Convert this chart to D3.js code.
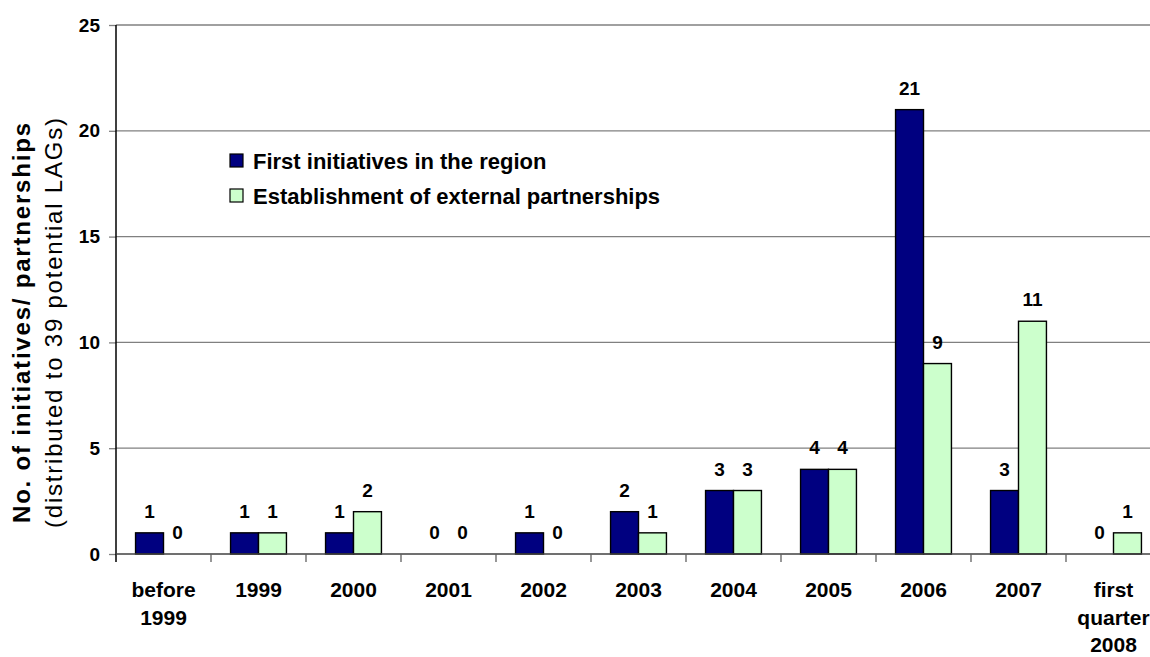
<!DOCTYPE html>
<html>
<head>
    <meta charset="utf-8">
    <title>initiatives-partnerships</title>
    <style>
body { margin: 0; background: #fff; }
text { font-family: "Liberation Sans", Arial, sans-serif; fill: #000; }
.grid line { stroke: #808080; stroke-width: 1.3; }
.bar { stroke: #000; stroke-width: 1.4; }
.val { font-size: 19px; font-weight: bold; text-anchor: middle; }
.xlab { font-size: 21px; font-weight: bold; text-anchor: middle; }
.leg { font-size: 22px; font-weight: bold; }
</style>
</head>
<body>
<script src="https://cdn.jsdelivr.net/npm/d3@7"></script>
<script>
// categories along the x axis, one array of text lines per category
var categories = ["before 1999", "1999", "2000", "2001", "2002", "2003", "2004", "2005", "2006", "2007", "first quarter 2008"];
var categoryLines = [["before", "1999"], ["1999"], ["2000"], ["2001"], ["2002"], ["2003"], ["2004"], ["2005"], ["2006"], ["2007"], ["first", "quarter", "2008"]];

// the two series
var seriesNames = ["First initiatives in the region", "Establishment of external partnerships"];
var firstInitiatives = [1, 1, 1, 0, 1, 2, 3, 4, 21, 3, 0];
var externalPartnerships = [0, 1, 2, 0, 0, 1, 3, 4, 9, 11, 1];
var seriesColors = ["#000080", "#ccffcc"];

var yTicks = [0, 5, 10, 15, 20, 25];

var totalWidth = 1150, totalHeight = 657;
// plot runs past the right edge of the picture, like the original
var margin = { top: 25, left: 116 };
var width = 1045, height = 529;

var svg = d3.select("body").append("svg")
    .attr("width", totalWidth)
    .attr("height", totalHeight);

var g = svg.append("g")
    .attr("transform", "translate(" + margin.left + "," + margin.top + ")");

var x0 = d3.scaleBand()
    .domain(categories)
    .range([0, width])
    .paddingInner(0)
    .paddingOuter(0);

var x1 = d3.scaleBand()
    .domain([0, 1])
    .range([0, x0.bandwidth()])
    .paddingInner(0)
    .paddingOuter(0.7);

var y = d3.scaleLinear()
    .domain([0, 25])
    .range([height, 0]);

// gridlines
g.append("g").attr("class", "grid")
    .selectAll("line")
    .data(yTicks.filter(function (d) { return d > 0; }))
    .enter().append("line")
    .attr("x1", 0).attr("x2", width)
    .attr("y1", function (d) { return y(d); })
    .attr("y2", function (d) { return y(d); });

// data table: one row per category
var rows = categories.map(function (c, i) {
    return { cat: c, values: [firstInitiatives[i], externalPartnerships[i]] };
});

var groups = g.selectAll(".grp")
    .data(rows)
    .enter().append("g")
    .attr("class", "grp")
    .attr("transform", function (d) { return "translate(" + x0(d.cat) + ",0)"; });

groups.selectAll("rect")
    .data(function (d) { return d.values.map(function (v, k) { return { k: k, v: v }; }); })
    .enter().append("rect")
    .filter(function (d) { return d.v > 0; })
    .attr("class", "bar")
    .attr("x", function (d) { return x1(d.k); })
    .attr("width", x1.bandwidth())
    .attr("y", function (d) { return y(d.v); })
    .attr("height", function (d) { return height - y(d.v); })
    .attr("fill", function (d) { return seriesColors[d.k]; });

groups.selectAll(".val")
    .data(function (d) { return d.values.map(function (v, k) { return { k: k, v: v }; }); })
    .enter().append("text")
    .attr("class", "val")
    .attr("x", function (d) { return x1(d.k) + x1.bandwidth() / 2; })
    .attr("y", function (d) { return y(d.v) - 15; })
    .text(function (d) { return d.v; });

// y axis
var yAxis = g.append("g")
    .call(d3.axisLeft(y).tickValues(yTicks).tickSize(7).tickPadding(9));
yAxis.select(".domain").remove();
yAxis.selectAll(".tick line").attr("stroke", "#808080").attr("stroke-width", 1.3);
yAxis.selectAll(".tick text")
    .style("font-size", "19px").style("font-weight", "bold")
    .style("font-family", "'Liberation Sans', Arial, sans-serif")
    .attr("fill", "#000");
g.append("line")
    .attr("x1", 0).attr("x2", 0)
    .attr("y1", 0).attr("y2", height + 8)
    .attr("stroke", "#000").attr("stroke-width", 1.5);

// x axis: baseline plus tick marks at category boundaries
g.append("line")
    .attr("x1", 0).attr("x2", width)
    .attr("y1", height).attr("y2", height)
    .attr("stroke", "#404040").attr("stroke-width", 1.5);
g.selectAll(".xtick")
    .data(categories.slice(1))
    .enter().append("line")
    .attr("class", "xtick")
    .attr("x1", function (d) { return x0(d); })
    .attr("x2", function (d) { return x0(d); })
    .attr("y1", height).attr("y2", height + 8)
    .attr("stroke", "#606060").attr("stroke-width", 1.3);

var xl = g.selectAll(".xlab")
    .data(categories)
    .enter().append("text")
    .attr("class", "xlab")
    .attr("transform", function (d) { return "translate(" + (x0(d) + x0.bandwidth() / 2) + "," + (height + 43) + ")"; });
xl.selectAll("tspan")
    .data(function (d, i) { return categoryLines[i]; })
    .enter().append("tspan")
    .attr("x", 0)
    .attr("y", function (d, j) { return j * 27.5; })
    .text(function (d) { return d; });

// y axis title
svg.append("text")
    .attr("transform", "translate(30,323) rotate(-90)")
    .attr("text-anchor", "middle")
    .attr("textLength", 400)
    .attr("lengthAdjust", "spacing")
    .style("font-size", "24px").style("font-weight", "bold")
    .text("No. of initiatives/ partnerships");
svg.append("text")
    .attr("transform", "translate(62,323) rotate(-90)")
    .attr("text-anchor", "middle")
    .attr("textLength", 410)
    .attr("lengthAdjust", "spacing")
    .style("font-size", "24px")
    .text("(distributed to 39 potential LAGs)");

// legend
var legend = svg.append("g")
    .attr("transform", "translate(230,154)");
var li = legend.selectAll("g")
    .data(seriesNames)
    .enter().append("g")
    .attr("transform", function (d, i) { return "translate(0," + (i * 35) + ")"; });
li.append("rect")
    .attr("width", 13).attr("height", 13)
    .attr("fill", function (d, i) { return seriesColors[i]; })
    .attr("stroke", "#000").attr("stroke-width", 1.2);
li.append("text")
    .attr("class", "leg")
    .attr("x", 23).attr("y", 15)
    .text(function (d) { return d; });
</script>
</body>
</html>
